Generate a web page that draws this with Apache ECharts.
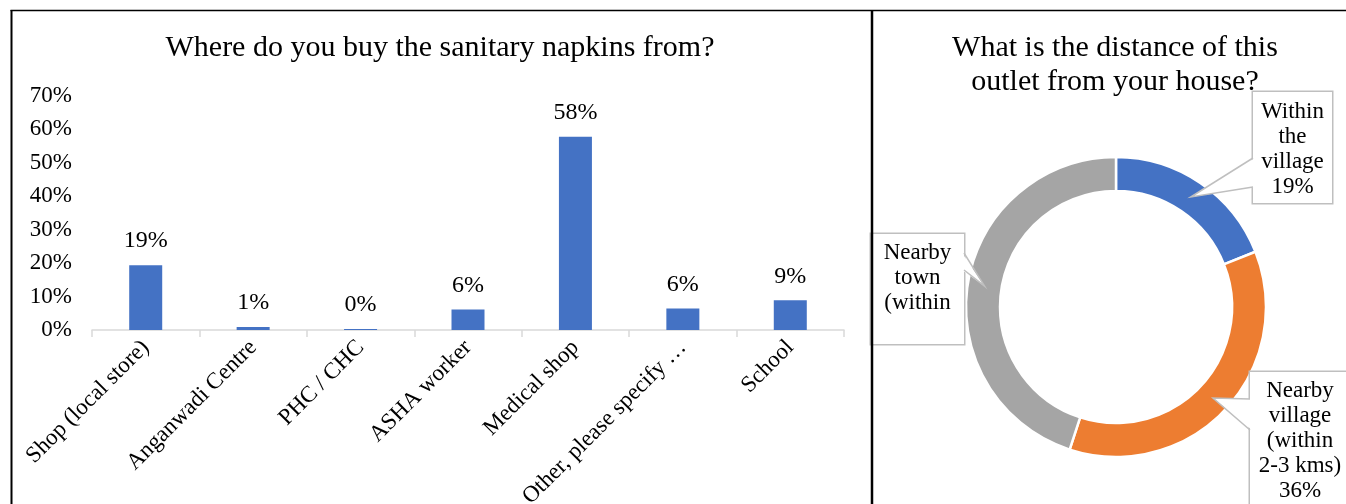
<!DOCTYPE html>
<html><head><meta charset="utf-8">
<script src="https://cdn.jsdelivr.net/npm/echarts@6/dist/echarts.min.js"></script>
<style>html,body{margin:0;padding:0;background:#fff}#c{width:1346px;height:504px}</style>
</head><body><div id="c"></div>
<script>
// ---- data ----
const barCategories = ['Shop (local store)', 'Anganwadi Centre', 'PHC / CHC', 'ASHA worker', 'Medical shop', 'Other, please specify …', 'School'];
const barValues = [19.4, 0.9, 0.3, 6.1, 57.8, 6.4, 8.9];
const yAxisMax = 70;
const yAxisStep = 10;
const pieNames = ['Within the village', 'Nearby village (within 2-3 kms)', 'Nearby town (within'];
const pieValues = [19, 36, 45];
const pieLabelLines = [['Within', 'the', 'village'], ['Nearby', 'village', '(within', '2-3 kms)'], ['Nearby', 'town', '(within']];
const pieShowPercent = [true, true, false];
const pieColors = ['#4472C4', '#ED7D31', '#A5A5A5'];
const leftTitle = 'Where do you buy the sanitary napkins from?';
const rightTitle = 'What is the distance of this\noutlet from your house?';

// ---- layout / style ----
const FONT = '"Liberation Serif", "Times New Roman", serif';
const pieCenter = [1116, 307];
const pieR = [116, 150];
const boxes = [
  { x: 1253, y: 92, w: 79, pad: [7.5, 0, 3.5, 0], base: [[1253, 158], [1253, 187]], dir: 1 },
  { x: 1250, y: 372, w: 100, pad: [6.5, 0, 12, 0], base: [[1250, 399], [1250, 430]], dir: 1 },
  { x: 871, y: 234, w: 93, pad: [6.5, 0, 28.5, 0], base: [[964, 253], [964, 270]], dir: -1 }
];

const total = pieValues.reduce((a, b) => a + b, 0);
let cum = 0;
const wedgeGraphics = [];
const midR = (pieR[0] + pieR[1]) / 2;
pieValues.forEach((v, i) => {
  const frac = (cum + v / 2) / total;
  cum += v;
  const ang = Math.PI / 2 - frac * Math.PI * 2;
  const tip = [pieCenter[0] + midR * Math.cos(ang), pieCenter[1] - midR * Math.sin(ang)];
  const b = boxes[i];
  const d = 2 * b.dir;
  wedgeGraphics.push({
    type: 'polygon', z: 50, silent: true,
    shape: { points: [[b.base[0][0] + d, b.base[0][1]], tip, [b.base[1][0] + d, b.base[1][1]]] },
    style: { fill: '#fff', stroke: null }
  });
  wedgeGraphics.push({
    type: 'polyline', z: 51, silent: true,
    shape: { points: [b.base[0], tip, b.base[1]] },
    style: { stroke: '#BFBFBF', lineWidth: 1.5, fill: null }
  });
});

const pieData = pieNames.map((n, i) => ({
  name: n,
  value: pieValues[i],
  itemStyle: { color: pieColors[i] },
  label: {
    padding: boxes[i].pad,
    width: boxes[i].w
  }
}));

const chart = echarts.init(document.getElementById('c'), null, { renderer: 'canvas' });
chart.setOption({
  backgroundColor: '#fff',
  animation: false,
  textStyle: { fontFamily: FONT },
  graphic: [
    { type: 'text', z: 60, x: 440, y: 48, style: { text: leftTitle, fontSize: 30, fontFamily: FONT, fill: '#000', align: 'center', verticalAlign: 'middle' } },
    { type: 'text', z: 60, x: 1115, y: 65, style: { text: rightTitle, fontSize: 30, lineHeight: 34, fontFamily: FONT, fill: '#000', align: 'center', verticalAlign: 'middle' } },
    ...wedgeGraphics,
    { type: 'line', z: 100, silent: true, shape: { x1: 10.5, y1: 10.5, x2: 1346, y2: 10.5 }, style: { stroke: '#000', lineWidth: 1.5 } },
    { type: 'line', z: 100, silent: true, shape: { x1: 11.5, y1: 10, x2: 11.5, y2: 504 }, style: { stroke: '#000', lineWidth: 2 } },
    { type: 'line', z: 100, silent: true, shape: { x1: 872, y1: 10, x2: 872, y2: 504 }, style: { stroke: '#000', lineWidth: 2.5 } }
  ],
  grid: { left: 92, right: 502, top: 96, bottom: 174, containLabel: false, outerBoundsMode: 'none' },
  xAxis: {
    type: 'category',
    data: barCategories,
    axisLine: { show: true, lineStyle: { color: '#D9D9D9', width: 1.5 } },
    axisTick: { show: true, length: 7, lineStyle: { color: '#D9D9D9', width: 1.5 } },
    axisLabel: { rotate: 45, interval: 0, fontSize: 23, fontFamily: FONT, color: '#000', margin: 14 }
  },
  yAxis: {
    type: 'value', min: 0, max: yAxisMax, interval: yAxisStep,
    axisLabel: { formatter: '{value}%', fontSize: 23, fontFamily: FONT, color: '#000', margin: 20 },
    splitLine: { show: false }, axisLine: { show: false }, axisTick: { show: false }
  },
  series: [
    {
      type: 'bar',
      data: barValues,
      barWidth: 33,
      itemStyle: { color: '#4472C4' },
      label: {
        show: true, position: 'top', distance: 12, fontSize: 24, fontFamily: FONT, color: '#000',
        formatter: p => Math.round(p.value) + '%'
      }
    },
    {
      type: 'pie',
      center: pieCenter,
      radius: pieR,
      startAngle: 90,
      clockwise: true,
      avoidLabelOverlap: false,
      itemStyle: { borderColor: '#fff', borderWidth: 2.5 },
      label: {
        show: true, position: 'outside',
        fontSize: 23, lineHeight: 25, fontFamily: FONT, color: '#000',
        align: 'center',
        backgroundColor: '#fff', borderColor: '#BFBFBF', borderWidth: 1.5,
        formatter: p => {
          const lines = pieLabelLines[p.dataIndex].slice();
          if (pieShowPercent[p.dataIndex]) lines.push(Math.round(p.percent) + '%');
          return lines.join('\n');
        }
      },
      labelLine: { show: false },
      labelLayout: p => {
        const b = boxes[p.dataIndex];
        return { x: b.x + b.w / 2, y: b.y, align: 'center', verticalAlign: 'top', hideOverlap: false, moveOverlap: false };
      },
      data: pieData
    }
  ]
});
</script></body></html>
